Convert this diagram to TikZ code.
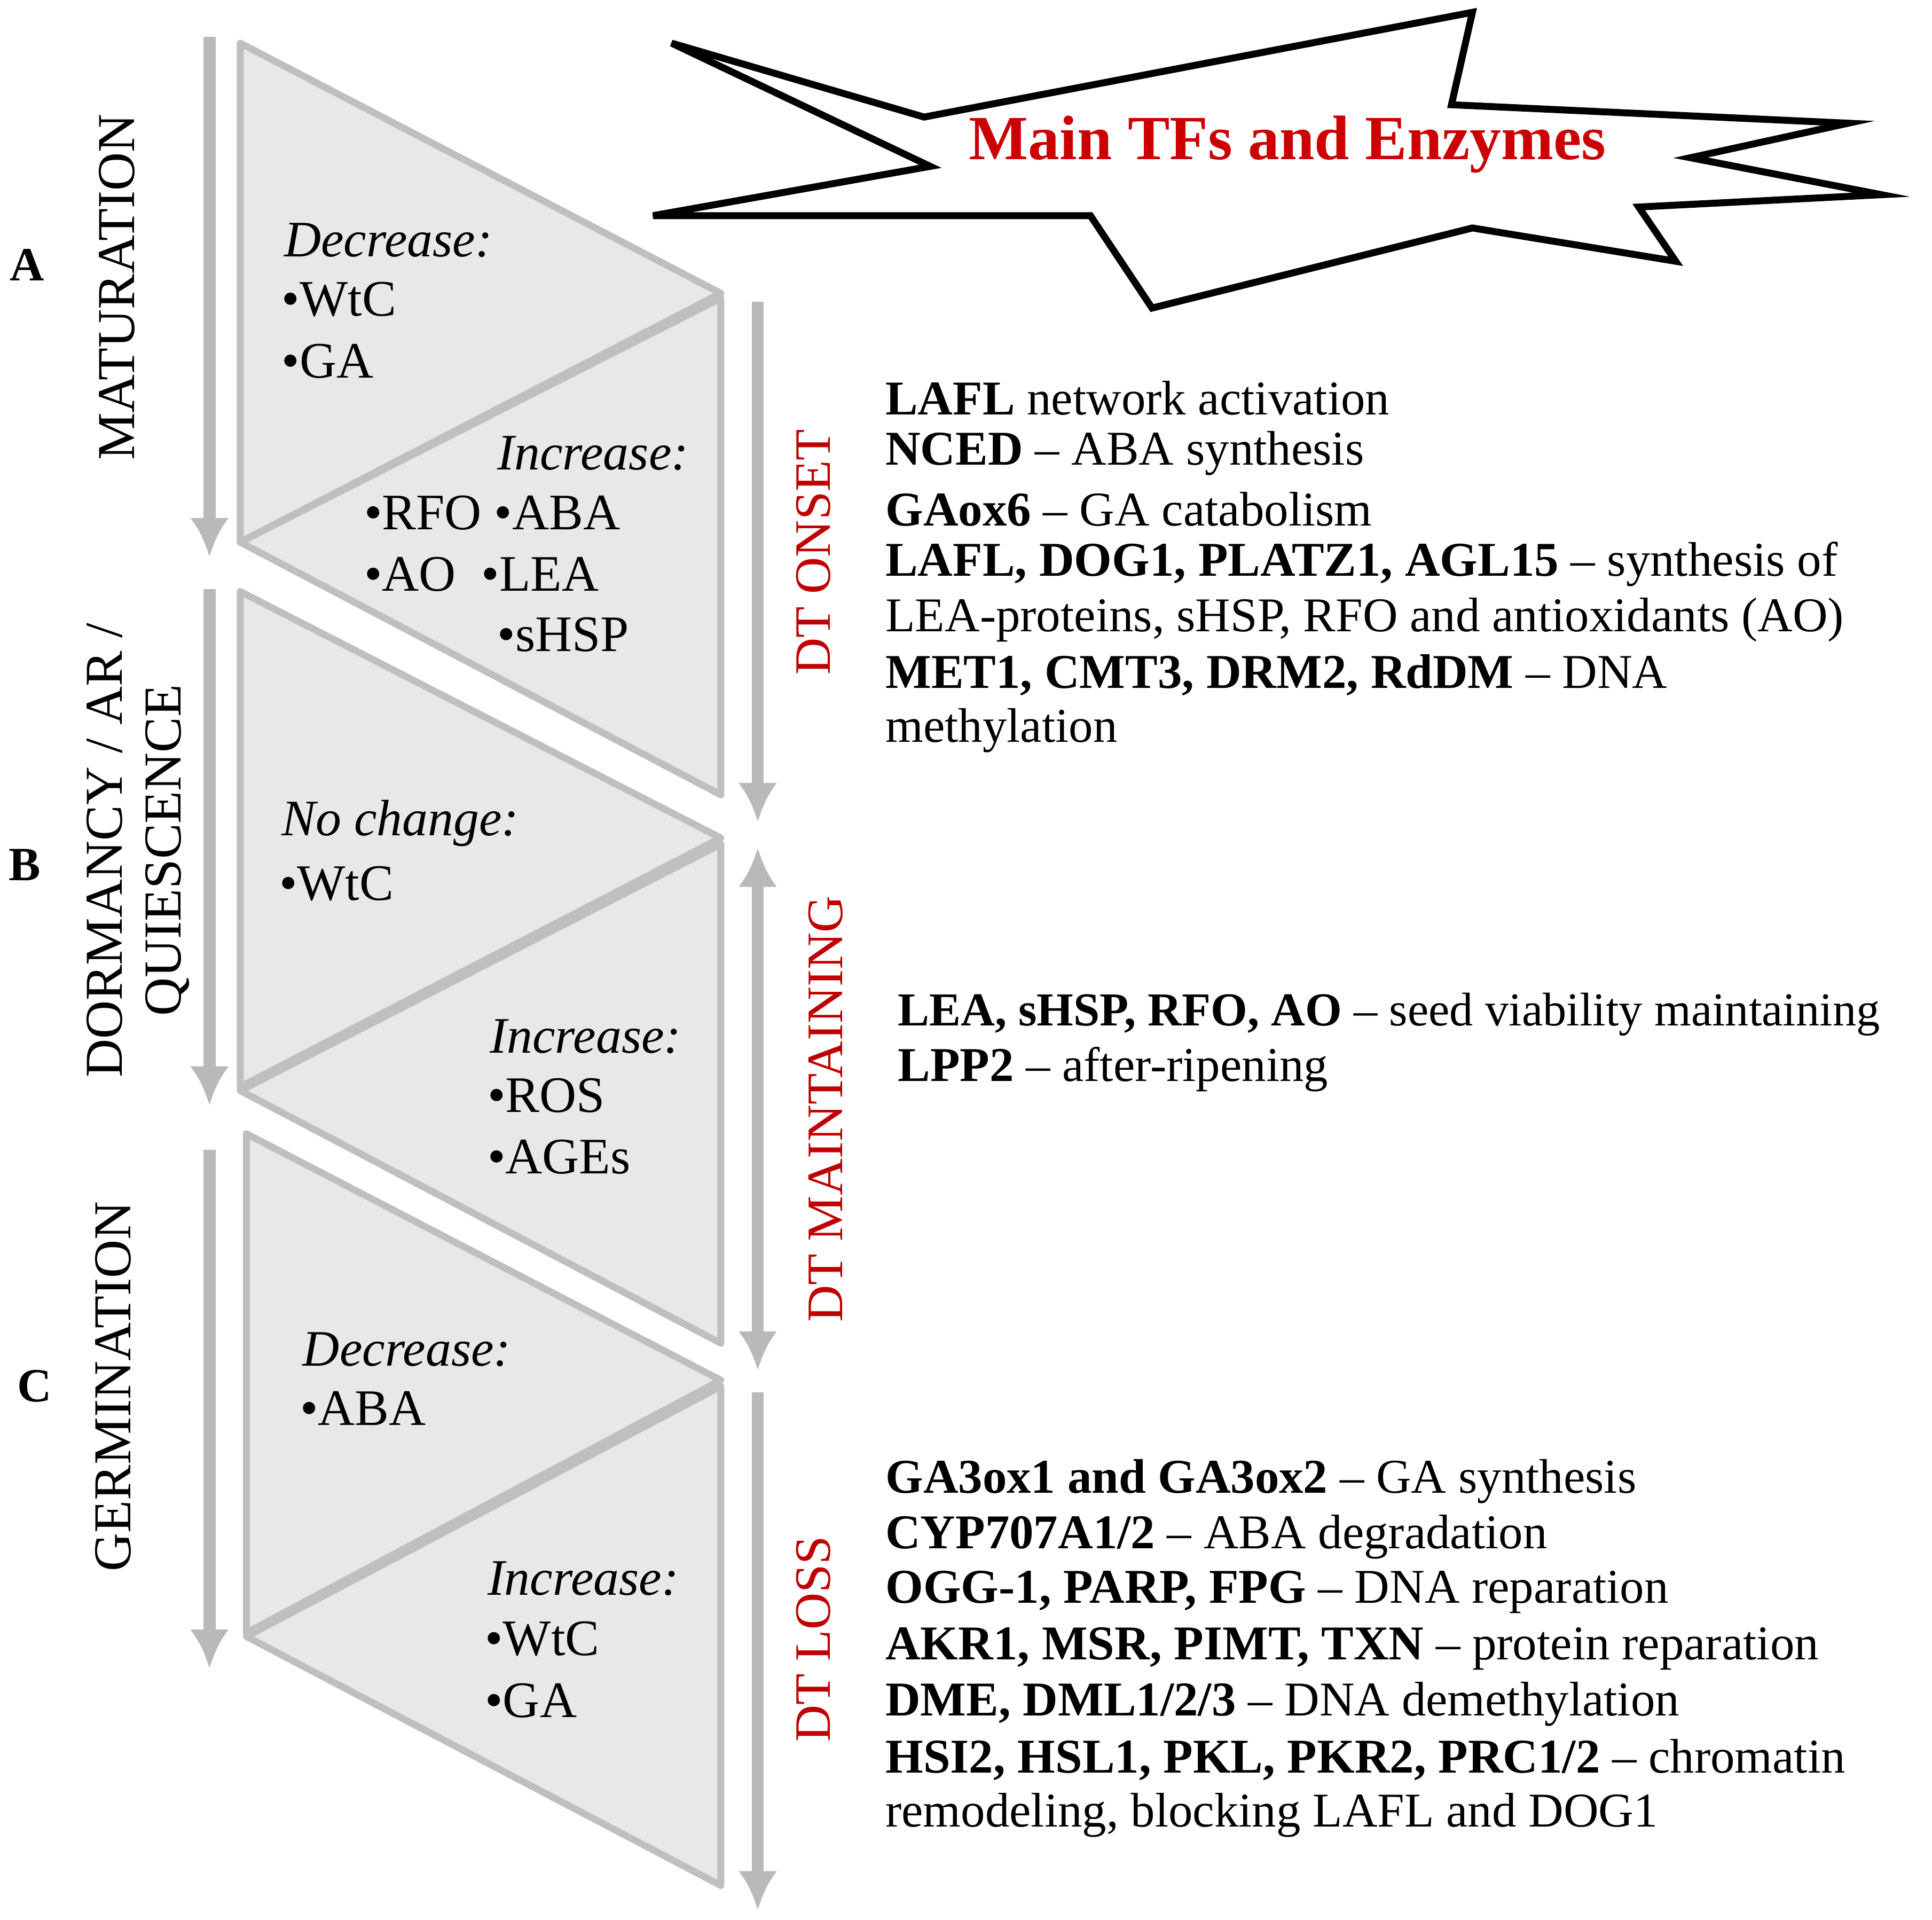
\documentclass[tikz,border=0pt]{standalone}
\usepackage{fontspec}
\setmainfont{Liberation Serif}
\usetikzlibrary{arrows.meta}
\begin{document}
\begin{tikzpicture}[x=0.01cm,y=-0.01cm,
 tri/.style={fill=gray!18,draw=gray!50,line width=1.6pt,line join=round},
 arr/.style={draw=gray!55,line width=2.8pt,-{Latex[length=9pt,width=9pt]}},
 lab/.style={font=\fontsize{11.2}{12.8}\selectfont,anchor=west,inner sep=0},
 tl/.style={font=\fontsize{11.8}{13}\selectfont,anchor=west,inner sep=0},
 side/.style={font=\fontsize{12.3}{13.5}\selectfont,rotate=90,align=center},
 dt/.style={font=\fontsize{11.8}{12}\selectfont,rotate=90,text=red!75!black},
 let/.style={font=\bfseries\fontsize{11}{12}\selectfont}]
\useasboundingbox (0,0) rectangle (1568,1558);
% triangles
\draw[tri] (195,35)--(195,440)--(585,238)--cycle;
\draw[tri] (195,440)--(585,242)--(585,645)--cycle;
\draw[tri] (195,480)--(195,882)--(585,680)--cycle;
\draw[tri] (195,885)--(585,685)--(585,1090)--cycle;
\draw[tri] (200,920)--(200,1325)--(585,1120)--cycle;
\draw[tri] (200,1328)--(585,1125)--(585,1530)--cycle;
% left arrows
\coordinate (a1) at (170,30); \coordinate (a2) at (170,452);
\coordinate (b1) at (170,478); \coordinate (b2) at (170,897);
\coordinate (c1) at (170,933); \coordinate (c2) at (170,1354);
\draw[arr] (a1)--(a2); \draw[arr] (b1)--(b2); \draw[arr] (c1)--(c2);
% right arrows
\coordinate (d1) at (615,245); \coordinate (d2) at (615,667);
\coordinate (e1) at (615,688); \coordinate (e2) at (615,1112);
\coordinate (f1) at (615,1130); \coordinate (f2) at (615,1550);
\draw[arr] (d1)--(d2); \draw[arr,{Latex[length=9pt,width=9pt]}-{Latex[length=9pt,width=9pt]}] (e1)--(e2); \draw[arr] (f1)--(f2);
% side labels
\node[let] (A) at (22,215) {A};
\node[let] (B) at (20,702) {B};
\node[let] (C) at (28,1125) {C};
\node[side] (mat) at (95,233) {MATURATION};
\node[side] (dor) at (112,690) {DORMANCY / AR /\\QUIESCENCE};
\node[side] (ger) at (92,1125) {GERMINATION};
\node[dt] (on) at (660,448) {DT ONSET};
\node[dt] (mt) at (670,900) {DT MAINTAINING};
\node[dt] (ls) at (660,1330) {DT LOSS};
% triangle texts
\node[tl] (t1) at (230,195) {\itshape Decrease:};
\node[tl] (t2) at (228,243) {•WtC};
\node[tl] (t3) at (228,293) {•GA};
\node[tl] (t4) at (403,368) {\itshape Increase:};
\node[tl] (t5) at (295,416) {•RFO •ABA};
\node[tl] (t6) at (295,466) {•AO~~•LEA};
\node[tl] (t7) at (403,515) {•sHSP};
\node[tl] (t8) at (228,668) {\itshape No change:};
\node[tl] (t9) at (226,717) {•WtC};
\node[tl] (t10) at (397,841) {\itshape Increase:};
\node[tl] (t11) at (395,889) {•ROS};
\node[tl] (t12) at (395,939) {•AGEs};
\node[tl] (t13) at (245,1095) {\itshape Decrease:};
\node[tl] (t14) at (243,1143) {•ABA};
\node[tl] (t15) at (395,1281) {\itshape Increase:};
\node[tl] (t16) at (393,1330) {•WtC};
\node[tl] (t17) at (393,1380) {•GA};
% starburst
\draw[line width=1.6pt,fill=white] (545,35)--(750,95)--(1195,10)--(1178,85)--(1500,100)--(1372,128)--(1527,158)--(1330,168)--(1360,212)--(1195,185)--(935,250)--(885,175)--(530,175)--(755,135)--cycle;
\node[font=\bfseries\fontsize{14.5}{16}\selectfont,text=red!80!black] (title) at (1045,117) {Main TFs and Enzymes};
% right texts
\node[lab] (r1) at (718,323) {\textbf{LAFL} network activation};
\node[lab] (r2) at (718,368) {\textbf{NCED} -- ABA synthesis};
\node[lab] (r3) at (718,413) {\textbf{GAox6} -- GA catabolism};
\node[lab] (r4) at (718,458) {\textbf{LAFL, DOG1, PLATZ1, AGL15} -- synthesis of};
\node[lab] (r5) at (718,503) {LEA-proteins, sHSP, RFO and antioxidants (AO)};
\node[lab] (r6) at (718,548) {\textbf{MET1, CMT3, DRM2, RdDM} -- DNA};
\node[lab] (r7) at (718,593) {methylation};
\node[lab,font=\fontsize{10.9}{12.8}\selectfont] (s1) at (728,823) {\textbf{LEA, sHSP, RFO, AO} -- seed viability maintaining};
\node[lab] (s2) at (728,868) {\textbf{LPP2} -- after-ripening};
\node[lab] (u1) at (718,1202) {\textbf{GA3ox1 and GA3ox2} -- GA synthesis};
\node[lab] (u2) at (718,1247) {\textbf{CYP707A1/2} -- ABA degradation};
\node[lab] (u3) at (718,1292) {\textbf{OGG-1, PARP, FPG} -- DNA reparation};
\node[lab] (u4) at (718,1338) {\textbf{AKR1, MSR, PIMT, TXN} -- protein reparation};
\node[lab] (u5) at (718,1383) {\textbf{DME, DML1/2/3} -- DNA demethylation};
\node[lab] (u6) at (718,1428) {\textbf{HSI2, HSL1, PKL, PKR2, PRC1/2} -- chromatin};
\node[lab] (u7) at (718,1473) {remodeling, blocking LAFL and DOG1};
\end{tikzpicture}
\end{document}
